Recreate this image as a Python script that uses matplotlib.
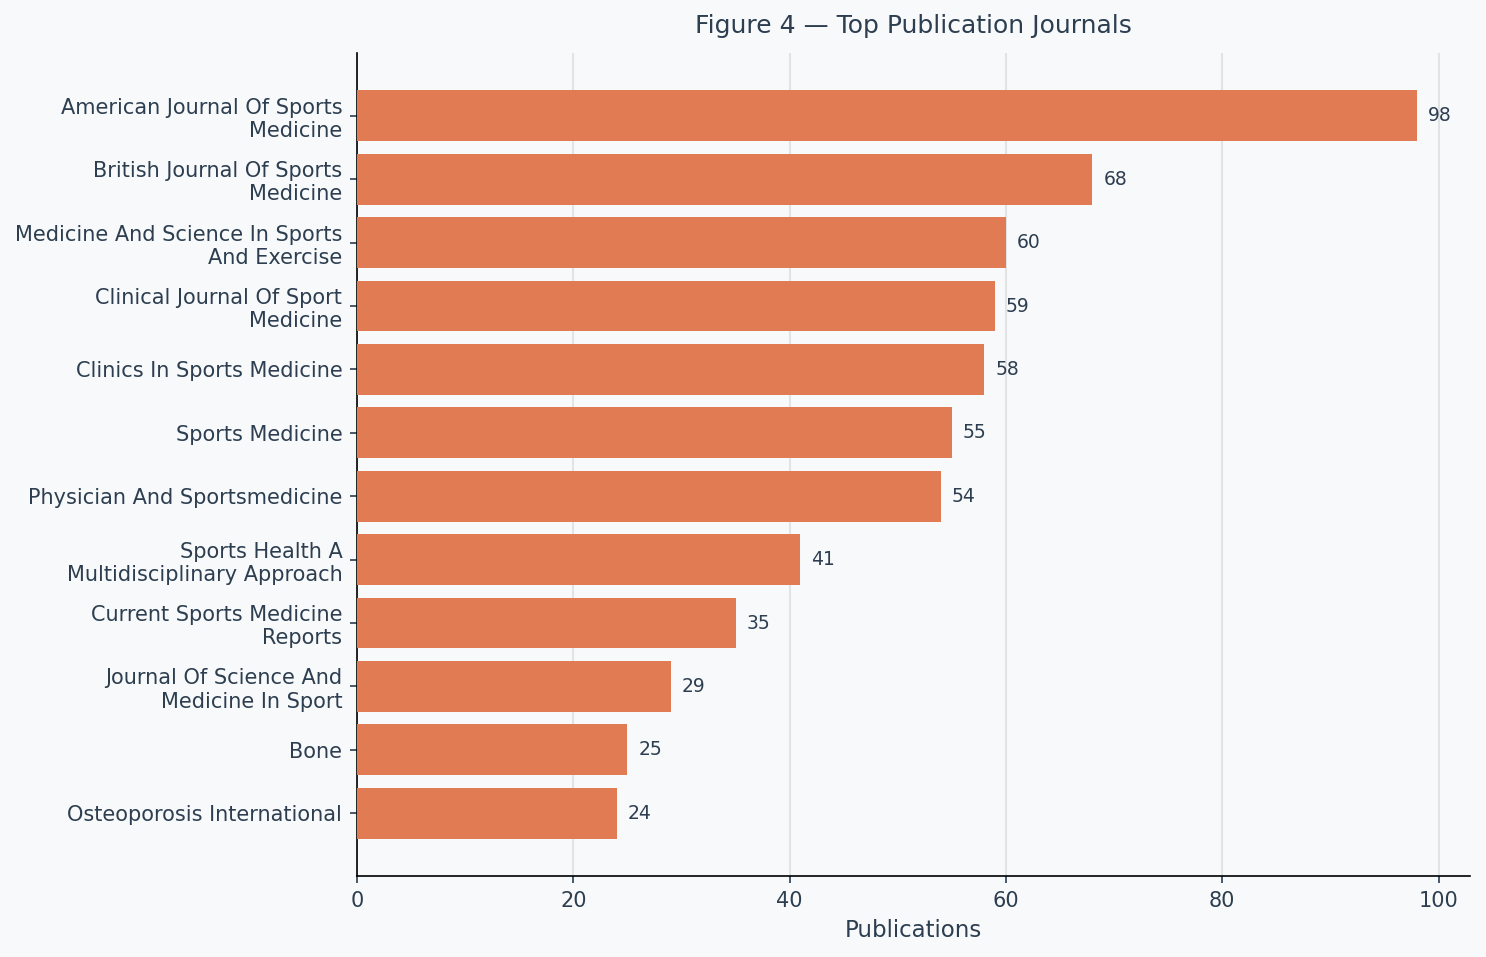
import matplotlib
matplotlib.use("Agg")
import matplotlib.pyplot as plt

journals = [
    "American Journal Of Sports\nMedicine",
    "British Journal Of Sports\nMedicine",
    "Medicine And Science In Sports\nAnd Exercise",
    "Clinical Journal Of Sport\nMedicine",
    "Clinics In Sports Medicine",
    "Sports Medicine",
    "Physician And Sportsmedicine",
    "Sports Health A\nMultidisciplinary Approach",
    "Current Sports Medicine\nReports",
    "Journal Of Science And\nMedicine In Sport",
    "Bone",
    "Osteoporosis International",
]
counts = [98, 68, 60, 59, 58, 55, 54, 41, 35, 29, 25, 24]

bg = "#f8f9fa"
text_color = "#2c3e50"
bar_color = "#e07b54"

fig, ax = plt.subplots(figsize=(9.907, 6.38), dpi=150)
fig.patch.set_facecolor(bg)
ax.set_facecolor(bg)

ypos = list(range(len(journals)))
ax.barh(ypos, counts, height=0.8, color=bar_color, zorder=3)
ax.set_yticks(ypos)
ax.set_yticklabels(journals)
ax.invert_yaxis()
ax.set_xlim(0, max(counts) * 1.05)

for y, c in zip(ypos, counts):
    ax.text(c + 1, y, str(c), va="center", ha="left", fontsize=9, color=text_color)

ax.grid(axis="x", color="#e2e3e5", linewidth=1, zorder=0)
ax.spines["top"].set_visible(False)
ax.spines["right"].set_visible(False)
ax.tick_params(colors=text_color, labelsize=10)
for lab in ax.get_yticklabels() + ax.get_xticklabels():
    lab.set_color(text_color)
ax.set_xlabel("Publications", fontsize=11, color=text_color)
ax.set_title("Figure 4 \u2014 Top Publication Journals", fontsize=12, color=text_color, pad=9.5)

fig.subplots_adjust(left=0.2402, right=0.9892, top=0.9446, bottom=0.0846)
plt.savefig("out.png", dpi=150, facecolor=bg)
